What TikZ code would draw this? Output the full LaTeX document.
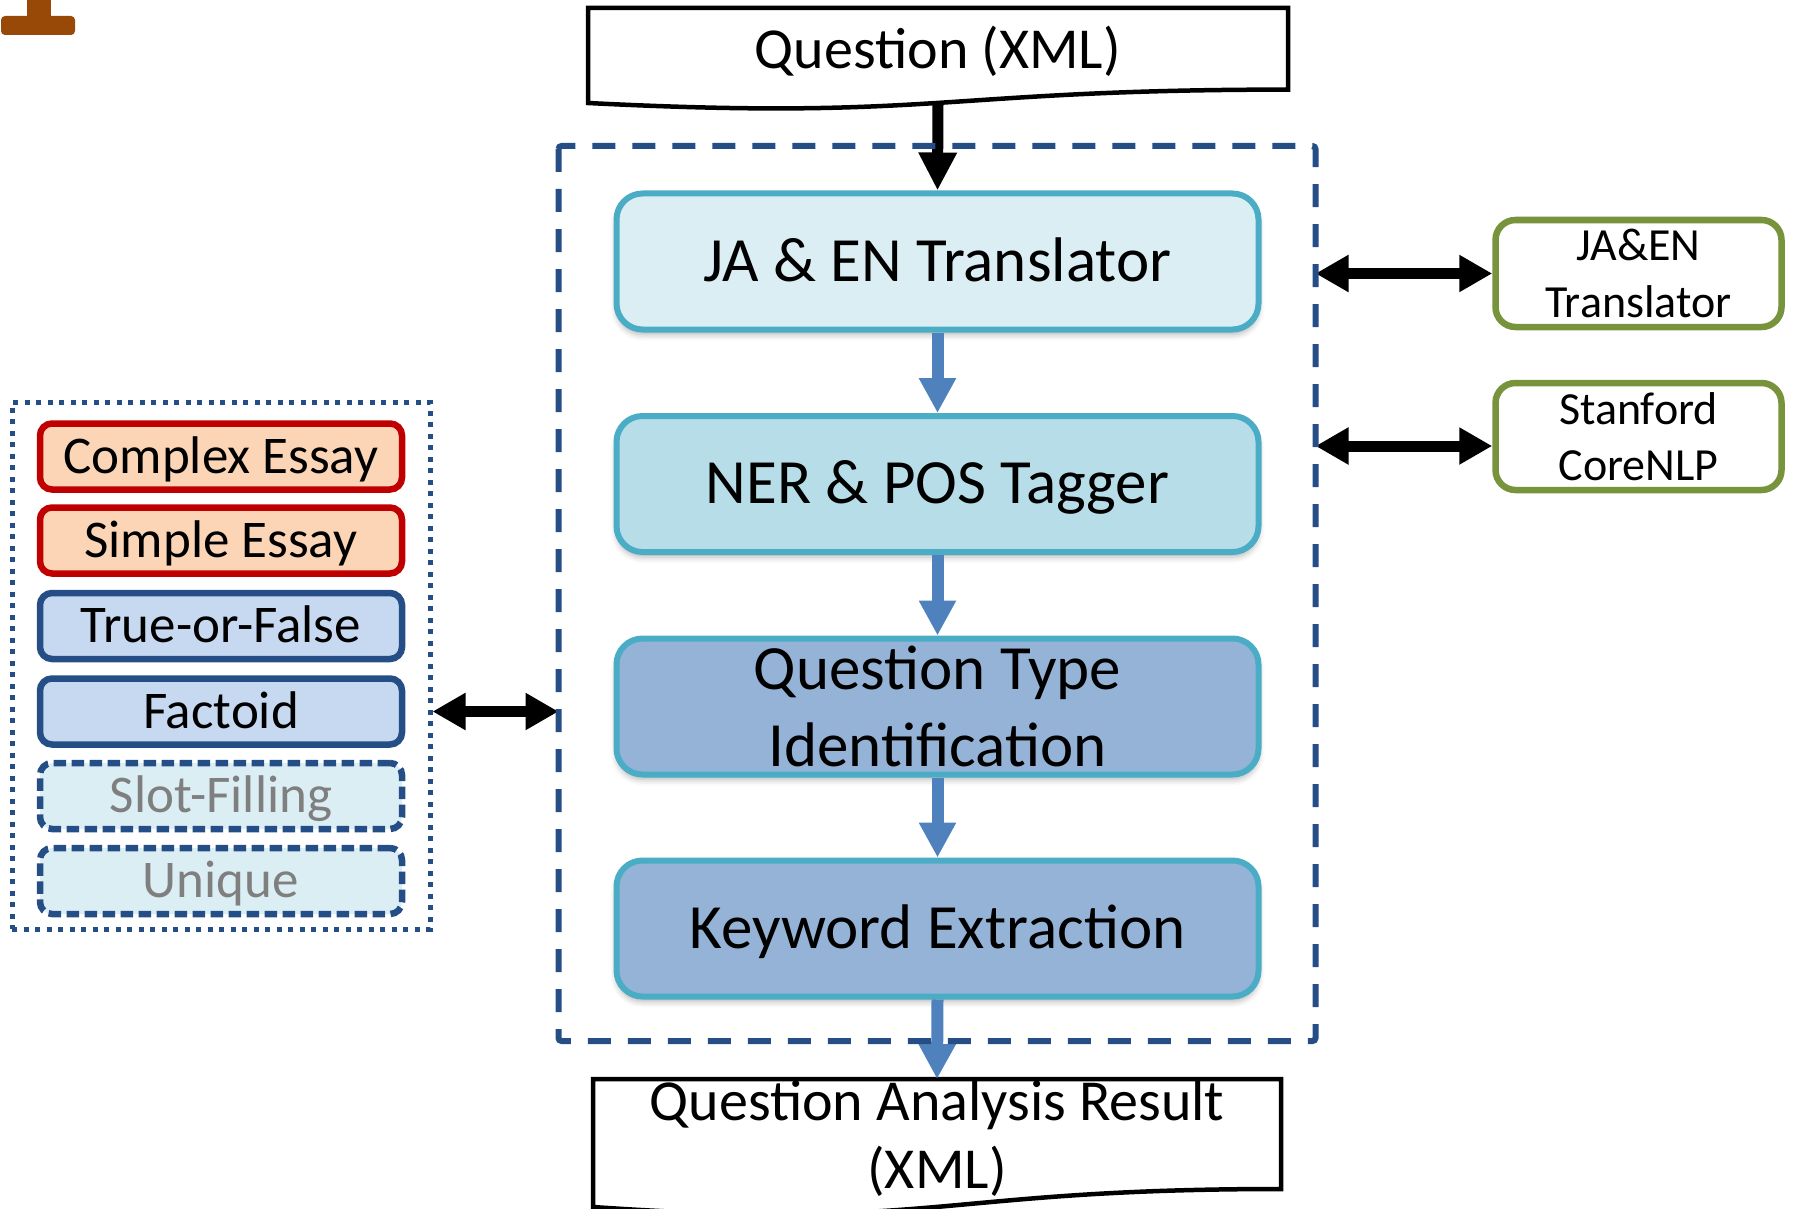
\documentclass[tikz,border=0pt]{standalone}
\usepackage{fontspec}
\setmainfont{Carlito}
\usetikzlibrary{arrows.meta,calc,shadows.blur}
\definecolor{cborder}{HTML}{4BACC6}
\definecolor{cja}{HTML}{DBEEF4}
\definecolor{cner}{HTML}{B7DEE8}
\definecolor{cqti}{HTML}{95B3D7}
\definecolor{carrow}{HTML}{4F81BD}
\definecolor{cdark}{HTML}{254E86}
\definecolor{cred}{HTML}{C00000}
\definecolor{corange}{HTML}{FBD5B5}
\definecolor{cblue}{HTML}{C6D9F1}
\definecolor{clight}{HTML}{DBEEF4}
\definecolor{cgray}{HTML}{7F7F7F}
\definecolor{cgreen}{HTML}{77933C}
\definecolor{cbrown}{HTML}{984807}
\begin{document}
\begin{tikzpicture}[x=1pt,y=-1pt,
  capc/.style={text height=#1, text depth=0pt},
  mainbox/.style={draw=cborder, line width=6pt, rounded corners=26pt,
    minimum width=642pt, minimum height=136pt, inner sep=0pt,
    font=\fontsize{63}{77}\selectfont, align=center,
    blur shadow={shadow xshift=0pt, shadow yshift=-5pt, shadow blur radius=6pt, shadow opacity=30}},
  listbox/.style={line width=6.5pt, rounded corners=12pt, minimum width=362pt,
    minimum height=66pt, inner sep=0pt, font=\fontsize{53}{60}\selectfont, capc=33.5pt},
  essay/.style={listbox, draw=cred, fill=corange},
  typed/.style={listbox, draw=cdark, fill=cblue},
  future/.style={listbox, draw=cdark, fill=clight, dash pattern=on 12.5pt off 5.5pt, text=cgray},
  extbox/.style={draw=cgreen, line width=6.5pt, rounded corners=20pt, minimum width=286pt,
    minimum height=107pt, inner sep=0pt, font=\fontsize{46}{56.5}\selectfont, align=center},
  flow/.style={draw=carrow, line width=12pt, -{Triangle[width=35pt,length=35pt]}},
  link/.style={draw=black, line width=11pt, {Triangle[width=35pt,length=33pt]}-{Triangle[width=35pt,length=33pt]}},
  docline/.style={draw=black, line width=4.5pt, line join=miter}
]
\useasboundingbox (0,0) rectangle (1793,1209);

% brown mark
\fill[cbrown] (27,0) rectangle (51,17);
\fill[cbrown, rounded corners=4pt] (1,16) rectangle (75,35);

% frame placeholder
\node[minimum width=757pt, minimum height=895pt, inner sep=0pt, outer sep=0pt] (frame) at (937,593.5) {};

% input document
\draw[docline, fill=white] (588,8) -- (1288,8) -- (1288,89.6) .. controls (938,89.6) and (938,120.6) .. (588,103) -- cycle;
\node[font=\fontsize{58}{68}\selectfont, capc=36.7pt, inner sep=0pt] (q) at (938,49.7) {Question (XML)};
\coordinate (qout) at (938,103);

% main steps
\node[mainbox, fill=cja, capc=39.8pt] (ja) at (937.5,261.5) {JA \& EN Translator};
\node[mainbox, fill=cner, capc=39.8pt] (ner) at (937.5,484) {NER \& POS Tagger};
\node[mainbox, fill=cqti] (qti) at (937.5,706.5) {Question Type\\Identification};
\node[mainbox, fill=cqti, capc=39.8pt] (ke) at (937.5,928.5) {Keyword Extraction};

% output document
\draw[docline, fill=white] (593,1079) -- (1281,1079) -- (1281,1189) .. controls (937,1189) and (937,1230.7) .. (593,1207) -- cycle;
\node[font=\fontsize{58}{68}\selectfont, align=center, inner sep=0pt] (res) at (937,1138.5) {Question Analysis Result\\(XML)};
\coordinate (rtop) at (937,1079);

% arrows in the flow
\draw[draw=black, line width=11pt, -{Triangle[width=36pt,length=38pt]}] (qout) -- (ja.north);
\draw[flow] (ja.south) -- (ner.north);
\draw[flow] (ner.south) -- (qti.north);
\draw[flow] (qti.south) -- (ke.north);
\draw[flow] (ke.south) -- (rtop);

% question types list
\node[draw=cdark, line width=5pt, dash pattern=on 5pt off 6.5pt, minimum width=418pt, minimum height=527pt, inner sep=0pt] (list) at (221,665.5) {};
\node[essay] (ce) at (221,456.5) {Complex Essay};
\node[essay] (se) at (221,540.5) {Simple Essay};
\node[typed] (tf) at (221,626) {True-or-False};
\node[typed] (fa) at (221,711.5) {Factoid};
\node[future] (sf) at (221,796) {Slot-Filling};
\node[future] (un) at (221,881) {Unique};

% external tools
\node[extbox] (tr) at (1638.5,273.5) {JA\&EN\\Translator};
\node[extbox] (cn) at (1638.5,436.5) {Stanford\\CoreNLP};

% double arrows
\draw[link] (list.east |- fa.east) -- (frame.west |- fa.east);
\draw[link] (frame.east |- tr.west) -- (tr.west);
\draw[link] ($(cn.west -| frame.east)+(0,9.5)$) -- ($(cn.west)+(0,9.5)$);

% dashed frame on top
\draw[cdark, line width=6pt, dash pattern=on 23pt off 17pt, rounded corners=3pt] (frame.north west) rectangle (frame.south east);
\end{tikzpicture}
\end{document}
